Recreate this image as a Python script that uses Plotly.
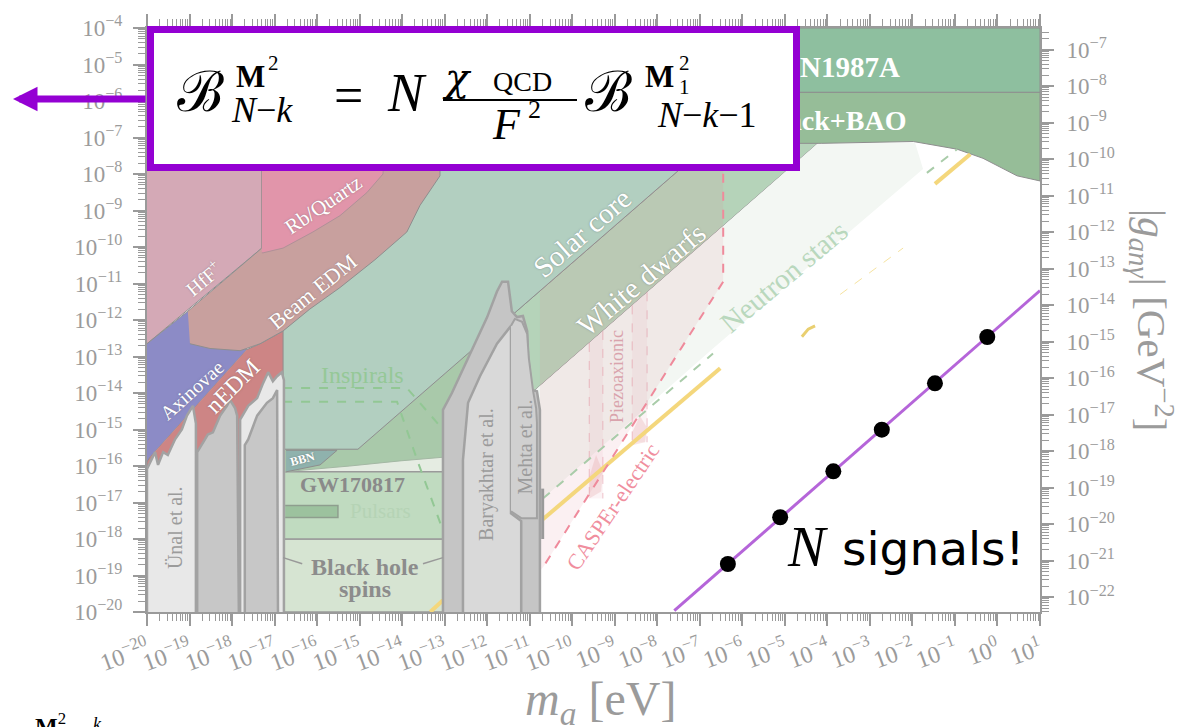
import numpy as np
import plotly.graph_objects as go

SERIF = "Liberation Serif"
AX_GRAY = "#9a9a9a"
TXT_GRAY = "#9b9b9b"
EDGE = "#8e8e8e"
PURPLE = "#9400d3"

# ---------------- regions, in log10(m_a / eV) and log10(coupling, left axis) ----------------
sn1987a_m = [-20.0, 1.0, 1.0, -20.0]
sn1987a_g = [-4.0, -4.0, -5.76, -5.76]

planck_m = [-6.99, 1.0, 1.0, 0.46, -0.34, -0.95, -1.98, -4.13, -6.99]
planck_g = [-5.76, -5.76, -8.19, -8.05, -7.57, -7.32, -7.11, -7.16, -7.16]

solar_m = [-16.80, -15.04, -3.65, -16.80]
solar_g = [-15.54, -15.54, -4.0, -4.0]

wd_m = [-11.93, -3.65, -1.12, -11.93]
wd_g = [-12.39, -4.0, -4.0, -14.99]

lowgreen_m = [-16.80, -15.04, -11.93, -11.93, -13.04, -14.05, -15.23, -16.40, -16.80]
lowgreen_g = [-15.54, -15.54, -12.39, -15.68, -15.76, -15.86, -16.00, -16.11, -16.16]

strip_m = [-16.80, -13.04, -13.04, -16.80]
strip_g = [-15.54, -15.54, -16.16, -16.16]

gw_m = [-16.80, -13.04, -13.04, -16.80]
gw_g = [-16.16, -16.16, -18.0, -18.0]

bh_m = [-16.80, -13.04, -13.04, -16.80]
bh_g = [-18.0, -18.0, -20.0, -20.0]

ns_m = [-10.87, -4.22, -1.94, -1.75, -6.69, -10.69, -10.87]
ns_g = [-13.92, -7.15, -7.14, -7.86, -12.78, -16.89, -16.89]

bbn_m = [-16.73, -15.53, -15.93, -16.73]
bbn_g = [-15.57, -15.57, -15.97, -16.16]

pulsar_m = [-16.75, -15.51, -15.51, -16.75]
pulsar_g = [-17.08, -17.08, -17.41, -17.41]

hff_m = [-20.0, -17.30, -17.30, -20.0]
hff_g = [-4.0, -4.0, -10.03, -12.65]

axi_m = [-20.0, -19.04, -18.2, -17.65, -19.93, -20.0]
axi_g = [-12.65, -11.76, -12.6, -12.81, -15.76, -15.89]

nedm_m = [-17.65, -17.34, -16.80, -16.80, -20.0, -20.0, -19.93]
nedm_g = [-12.81, -12.65, -12.30, -20.0, -20.0, -15.89, -15.76]

beam_m = [-19.04, -17.30, -17.30, -13.11, -13.11, -13.58, -13.89, -14.64, -15.46,
          -16.17, -16.80, -17.34, -17.81, -18.52, -18.99]
beam_g = [-11.76, -10.03, -4.0, -4.0, -8.05, -8.86, -9.59, -10.35, -11.11,
          -11.70, -12.30, -12.65, -12.84, -12.78, -12.65]

rb_m = [-17.30, -17.27, -16.80, -16.10, -15.46, -14.83, -14.45, -14.29, -17.30]
rb_g = [-10.16, -10.16, -10.03, -9.59, -9.14, -8.51, -8.00, -4.0, -4.0]

# grey bounds
unal_m = [-20.0, -20.0, -19.81, -19.74, -19.62, -19.51, -19.34, -19.18, -19.06, -18.92, -18.85, -18.85]
unal_g = [-20.0, -16.08, -15.62, -15.97, -15.62, -15.70, -15.27, -15.00, -14.62, -14.35, -14.84, -20.0]

grey2_m = [-18.82, -18.82, -18.68, -18.57, -18.45, -18.28, -18.12, -18.05, -17.93, -17.88, -17.84]
grey2_g = [-20.0, -15.62, -15.35, -15.14, -15.08, -14.62, -14.35, -14.19, -14.41, -14.62, -20.0]

light3_m = [-17.81, -17.81, -17.62, -17.41, -17.27, -17.15, -17.04, -16.94, -16.83, -16.78, -16.78]
light3_g = [-20.0, -14.73, -14.35, -14.14, -13.73, -13.43, -13.68, -13.54, -13.43, -13.65, -20.0]

grey3_m = [-17.70, -17.70, -17.62, -17.41, -17.18, -17.04, -16.94, -16.92]
grey3_g = [-20.0, -15.43, -15.27, -14.62, -14.27, -14.14, -13.92, -20.0]

bary_m = [-13.04, -13.04, -12.83, -12.47, -12.0, -11.77, -11.65, -11.51, -11.42, -11.30,
          -11.16, -11.06, -11.04, -10.95, -10.83, -10.76, -10.76]
bary_g = [-20.0, -14.46, -14.0, -13.11, -11.92, -11.22, -10.95, -10.95, -11.76, -11.92,
          -11.89, -12.30, -13.0, -13.92, -13.95, -14.46, -20.0]

bary_in_m = [-12.57, -12.57, -12.45, -12.17, -11.77, -11.51, -11.44, -11.44, -11.30, -11.20, -11.20]
bary_in_g = [-20.0, -15.84, -14.27, -13.54, -12.65, -12.24, -12.16, -17.30, -17.43, -17.51, -20.0]

mehta_m = [-11.44, -11.35, -11.18, -11.06, -11.02, -10.92, -10.85, -10.83, -10.83, -11.20, -11.44]
mehta_g = [-12.16, -11.97, -12.05, -12.38, -13.05, -13.95, -14.41, -14.81, -17.43, -17.43, -17.24]

notch_m = [-10.73, -10.66, -10.66, -10.73]
notch_g = [-16.62, -16.62, -18.0, -18.0]

casper_m = [-10.76, -6.45, -6.45, -10.69, -10.76]
casper_g = [-11.20, -6.84, -10.95, -18.78, -18.86]
casper_edge_m = [-6.45, -6.45, -10.69]
casper_edge_g = [-7.5, -10.95, -18.78]

piezo_m = [[-9.60, -9.28, -9.28, -9.60], [-8.59, -8.24, -8.24, -8.59]]
piezo_g = [[-12.63, -12.30, -16.89, -16.89], [-11.60, -11.24, -15.35, -15.35]]
piezo_spot_m = [[-9.44, -9.28, -9.32, -9.60, -9.60], [-8.41, -8.24, -8.29, -8.59, -8.59]]
piezo_spot_g = [[-15.70, -16.16, -16.70, -16.89, -16.30], [-14.62, -14.95, -15.35, -15.43, -15.08]]

yellow_segs_m = [[-13.34, -13.04], [-10.69, -6.52], [-1.47, -0.64]]
yellow_segs_g = [[-20.0, -19.68], [-17.46, -13.32], [-8.27, -7.46]]
yellow_thin_m = [-3.70, -2.22]
yellow_thin_g = [-11.30, -10.03]
yellow_bit_m = [-4.60, -4.45, -4.29]
yellow_bit_g = [-12.46, -12.25, -12.16]

green_dash_m = [[-10.69, -6.69], [-1.66, -0.95]]
green_dash_g = [[-16.89, -12.92], [-7.97, -7.32]]

insp_a_m = [-16.80, -13.89, -13.04]
insp_a_g = [-13.86, -13.86, -15.00]
insp_b_m = [-16.80, -14.12, -13.63, -13.06]
insp_b_g = [-14.24, -14.24, -15.89, -17.70]

bh_ptr_m = [[-16.80, -16.35], [-13.51, -13.04]]
bh_ptr_g = [[-18.51, -18.68], [-18.68, -18.51]]

# N signals on the right axis (log10 |g_anγ| / GeV^-2)
signal_m = [-6.34, -5.11, -3.86, -2.72, -1.47, -0.24]
signal_g = [-21.09, -19.81, -18.55, -17.41, -16.14, -14.87]
signal_line_m = [-7.6, 1.0]
signal_line_g = [-22.37, -13.60]

# tick labels
x_decades = list(range(-20, 2))
left_decades = list(range(-20, -3))
right_decades = list(range(-22, -6))


def pow_labels(decades):
    return [f"10<sup>{'−' if d < 0 else ''}{abs(d)}</sup>" for d in decades]


fig = go.Figure()


def region(m, g, fill, edge=EDGE, width=1.0, yaxis="y"):
    fig.add_trace(go.Scatter(
        x=10 ** np.array(m), y=10 ** np.array(g), mode="lines", fill="toself",
        fillcolor=fill, line=dict(color=edge if width > 0 else fill, width=width),
        hoverinfo="skip", showlegend=False, yaxis=yaxis))


def curve(m, g, color, width=2, dash="solid"):
    fig.add_trace(go.Scatter(
        x=10 ** np.array(m), y=10 ** np.array(g), mode="lines",
        line=dict(color=color, width=width, dash=dash),
        hoverinfo="skip", showlegend=False))


# back-to-front
region(strip_m, strip_g, "#e5ece2", width=0)
region(bh_m, bh_g, "#d6e4d2", edge="#9a9a9a", width=1.5)
region(gw_m, gw_g, "#c0dbc0", edge="#9a9a9a", width=1.5)
region(lowgreen_m, lowgreen_g, "#a9c9aa", edge="#a4b8a4", width=1)
region(wd_m, wd_g, "#b5d3b9")
region(solar_m, solar_g, "#b2cfc0")
region(ns_m, ns_g, "#f3f7f3", width=0)
region(planck_m, planck_g, "#96bd98")
region(sn1987a_m, sn1987a_g, "#8ebf9f")
region(bbn_m, bbn_g, "#8fb2ad")
region(pulsar_m, pulsar_g, "#9cc29e", edge="#8e9e8e", width=1.5)
region(hff_m, hff_g, "#d4a9b6")
region(axi_m, axi_g, "#8c8bc6")
region(nedm_m, nedm_g, "#cd8585")
region(beam_m, beam_g, "#c8a09e")
region(rb_m, rb_g, "#e195aa", edge="#b09098")

curve(insp_a_m, insp_a_g, "#92c794", 2, "dash")
curve(insp_b_m, insp_b_g, "#92c794", 2, "dash")

# CASPEr-electric projection and piezoaxionic bands
region(casper_m, casper_g, "rgba(225,130,150,0.12)", width=0)
for pm, pg in zip(piezo_m, piezo_g):
    region(pm, pg, "rgba(225,130,150,0.09)", width=0)
    curve([pm[0], pm[3]], [pg[0], pg[3]], "rgba(225,140,155,0.5)", 1, "dash")
    curve([pm[1], pm[2]], [pg[1], pg[2]], "rgba(225,140,155,0.5)", 1, "dash")
for sm, sg in zip(piezo_spot_m, piezo_spot_g):
    region(sm, sg, "rgba(225,140,140,0.22)", width=0)

for gm, gg in zip(green_dash_m, green_dash_g):
    curve(gm, gg, "#a9cca9", 2, "dash")
for ym, yg in zip(yellow_segs_m, yellow_segs_g):
    curve(ym, yg, "#f4d77c", 4)
curve(yellow_thin_m, yellow_thin_g, "#f6e3a0", 1, "dash")
curve(yellow_bit_m, yellow_bit_g, "#e9cf70", 3)
curve(casper_edge_m, casper_edge_g, "#ef8a9b", 2, "dash")

region(unal_m, unal_g, "#e8e8e8", edge="#a2a2a2", width=2.5)
region(grey2_m, grey2_g, "#c7c7c7", edge="#a2a2a2", width=2.5)
region(light3_m, light3_g, "#e8e8e8", edge="#a2a2a2", width=2.5)
region(grey3_m, grey3_g, "#c7c7c7", edge="#a2a2a2", width=2.5)
region(bary_m, bary_g, "#c5c5c5", edge="#a2a2a2", width=2.5)
region(bary_in_m, bary_in_g, "#d9d9d9", edge="#a2a2a2", width=2.5)
region(mehta_m, mehta_g, "#d0d0d0", edge="#a2a2a2", width=2)
region(notch_m, notch_g, "#9a9a9a", width=0)

for pm, pg in zip(bh_ptr_m, bh_ptr_g):
    curve(pm, pg, "#999999", 1.5)

# labels that sit beneath the equation box
fig.add_trace(go.Scatter(
    x=[10 ** -3.66, 10 ** -4.01], y=[10 ** -5.14, 10 ** -6.59], mode="text",
    text=["<b>SN1987A</b>", "<b>Planck+BAO</b>"],
    textfont=dict(family=SERIF, size=[29, 28], color="white"),
    hoverinfo="skip", showlegend=False))

# N signals
fig.add_trace(go.Scatter(
    x=10 ** np.array(signal_line_m), y=10 ** np.array(signal_line_g), mode="lines",
    line=dict(color="#b565d9", width=3), yaxis="y2", hoverinfo="skip", showlegend=False))
fig.add_trace(go.Scatter(
    x=10 ** np.array(signal_m), y=10 ** np.array(signal_g), mode="markers",
    marker=dict(color="black", size=16), yaxis="y2", hoverinfo="skip", showlegend=False))

SHADOW = "0px 0px 2px rgba(90,90,90,0.55)"


def label(text, m, g, size, color="white", angle=0, bold=False, shadow=True):
    fig.add_annotation(
        x=m, y=g, xref="x", yref="y", text=f"<b>{text}</b>" if bold else text,
        showarrow=False, textangle=angle, xanchor="center", yanchor="middle",
        font=dict(family=SERIF, size=size, color=color, shadow=SHADOW if shadow else "none"))


label("HfF<sup>+</sup>", -18.68, -10.84, 20, angle=-40)
label("Rb/Quartz", -15.86, -8.86, 21, angle=-34)
label("Beam EDM", -16.10, -11.22, 22, angle=-39)
label("Axinovae", -18.94, -13.92, 20, angle=-42)
label("nEDM", -17.98, -13.81, 24, angle=-45)
label("Solar core", -9.77, -9.62, 29, angle=-41)
label("White dwarfs", -8.36, -10.89, 29, angle=-40)
label("Neutron stars", -5.04, -10.81, 29, color="#b9d8bd", angle=-40, shadow=False)
label("Inspirals", -14.94, -13.51, 24, color="#95c897", shadow=False)
label("GW170817", -15.16, -16.51, 22, color="#8a8a8a", bold=True, shadow=False)
label("Pulsars", -14.52, -17.24, 21, color="#b5d3b5", shadow=False)
label("Black hole", -14.87, -18.78, 24, color="#8c8c8c", bold=True, shadow=False)
label("spins", -14.87, -19.38, 24, color="#8c8c8c", bold=True, shadow=False)
label("<b>BBN</b>", -16.35, -15.81, 12, angle=-15)
label("CASPEr-electric", -9.04, -17.11, 22, color="#f08e9e", angle=-56, shadow=False)
label("Piezoaxionic", -8.95, -13.54, 18, color="#d9a3ac", angle=-90, shadow=False)
label("Ünal et al.", -19.34, -17.70, 20, color=TXT_GRAY, angle=-90, shadow=False)
label("Baryakhtar et al.", -12.03, -16.22, 20, color=TXT_GRAY, angle=-90, shadow=False)
label("Mehta et al.", -11.11, -15.49, 20, color=TXT_GRAY, angle=-90, shadow=False)


def P(px, py):
    return (px - 147) / 893, (612 - py) / 592


# equation box
bx0, by0 = P(150.5, 161.5)
bx1, by1 = P(796.5, 21.5)
fig.add_shape(type="rect", xref="paper", yref="paper", x0=bx0, y0=by0, x1=bx1, y1=by1,
              fillcolor="white", line=dict(color=PURPLE, width=7), layer="above")
fx0, fy = P(443, 93)
fx1, _ = P(577, 93)
fig.add_shape(type="line", xref="paper", yref="paper", x0=fx0, y0=fy, x1=fx1, y1=fy,
              line=dict(color="black", width=2), layer="above")


def txt(text, px, py, size, family=SERIF, color="black", angle=0, xanchor="center"):
    x, y = P(px, py)
    fig.add_annotation(x=x, y=y, xref="paper", yref="paper", text=text, showarrow=False,
                       xanchor=xanchor, yanchor="middle", textangle=angle,
                       font=dict(family=family, size=size, color=color))


txt("ℬ", 200, 84, 56, "DejaVu Serif")
txt("<b>M</b>", 250, 69, 31)
txt("2", 273, 55, 21)
txt("<i>N</i>−<i>k</i>", 262, 103, 36)
txt("=", 348, 88, 52)
txt("<i>N</i>", 407, 86, 54)
txt("<i>χ</i>", 457, 70, 40, "DejaVu Serif")
txt("QCD", 522, 74, 28)
txt("<i>F</i>", 506, 118, 44)
txt("2", 534, 103, 26)
txt("ℬ", 608, 84, 56, "DejaVu Serif")
txt("<b>M</b>", 659, 69, 31)
txt("2", 684, 55, 21)
txt("1", 684, 80, 21)
txt("<i>N</i>−<i>k</i>−1", 707, 108, 36)

# arrow pointing off to the left
ax_, ay_ = P(13, 92)
fig.add_annotation(x=ax_, y=ay_, xref="paper", yref="paper", text="", showarrow=True,
                   ax=134, ay=0, axref="pixel", ayref="pixel", arrowhead=2,
                   arrowwidth=7, arrowsize=0.7, arrowcolor=PURPLE)

# N signals!
txt("<i>N</i>", 807, 546, 56)
txt("signals!", 840, 548, 47, "DejaVu Sans", xanchor="left")

# start of the caption line below the figure
txt("<b>M</b><sup>2</sup>", 50, 726, 24)
txt("<i>k</i>", 97, 726, 18)

# axis titles
txt("<i>m<sub>a</sub></i> [eV]", 600, 703, 48, color=TXT_GRAY)
txt("|<i>g<sub>anγ</sub></i>| [GeV<sup>−2</sup>]", 1152, 316, 41, color=TXT_GRAY, angle=90)

tick_common = dict(
    type="log", exponentformat="power", showgrid=False, zeroline=False,
    showline=True, linecolor=AX_GRAY, linewidth=2, ticks="outside", ticklen=12,
    tickwidth=1.5, tickcolor=AX_GRAY,
    minor=dict(ticks="outside", ticklen=7, tickwidth=1, tickcolor=AX_GRAY, dtick="D1",
               showgrid=False),
)

fig.update_layout(
    width=1178, height=727, margin=dict(l=147, r=138, t=20, b=115),
    plot_bgcolor="white", paper_bgcolor="white", showlegend=False,
    xaxis=dict(range=[-20, 1], mirror="ticks", tickangle=-20,
               tickvals=[10.0 ** d for d in x_decades], ticktext=pow_labels(x_decades),
               tickfont=dict(family=SERIF, size=24, color=TXT_GRAY), **tick_common),
    yaxis=dict(range=[-20, -4], tickvals=[10.0 ** d for d in left_decades],
               ticktext=pow_labels(left_decades), ticklabelstandoff=6,
               tickfont=dict(family=SERIF, size=23, color=TXT_GRAY), **tick_common),
    yaxis2=dict(range=[-22.405, -6.405], overlaying="y", side="right",
                tickvals=[10.0 ** d for d in right_decades], ticktext=pow_labels(right_decades),
                ticklabelstandoff=8,
                tickfont=dict(family=SERIF, size=23, color=TXT_GRAY), **tick_common),
)

fig.write_html("out.html")
